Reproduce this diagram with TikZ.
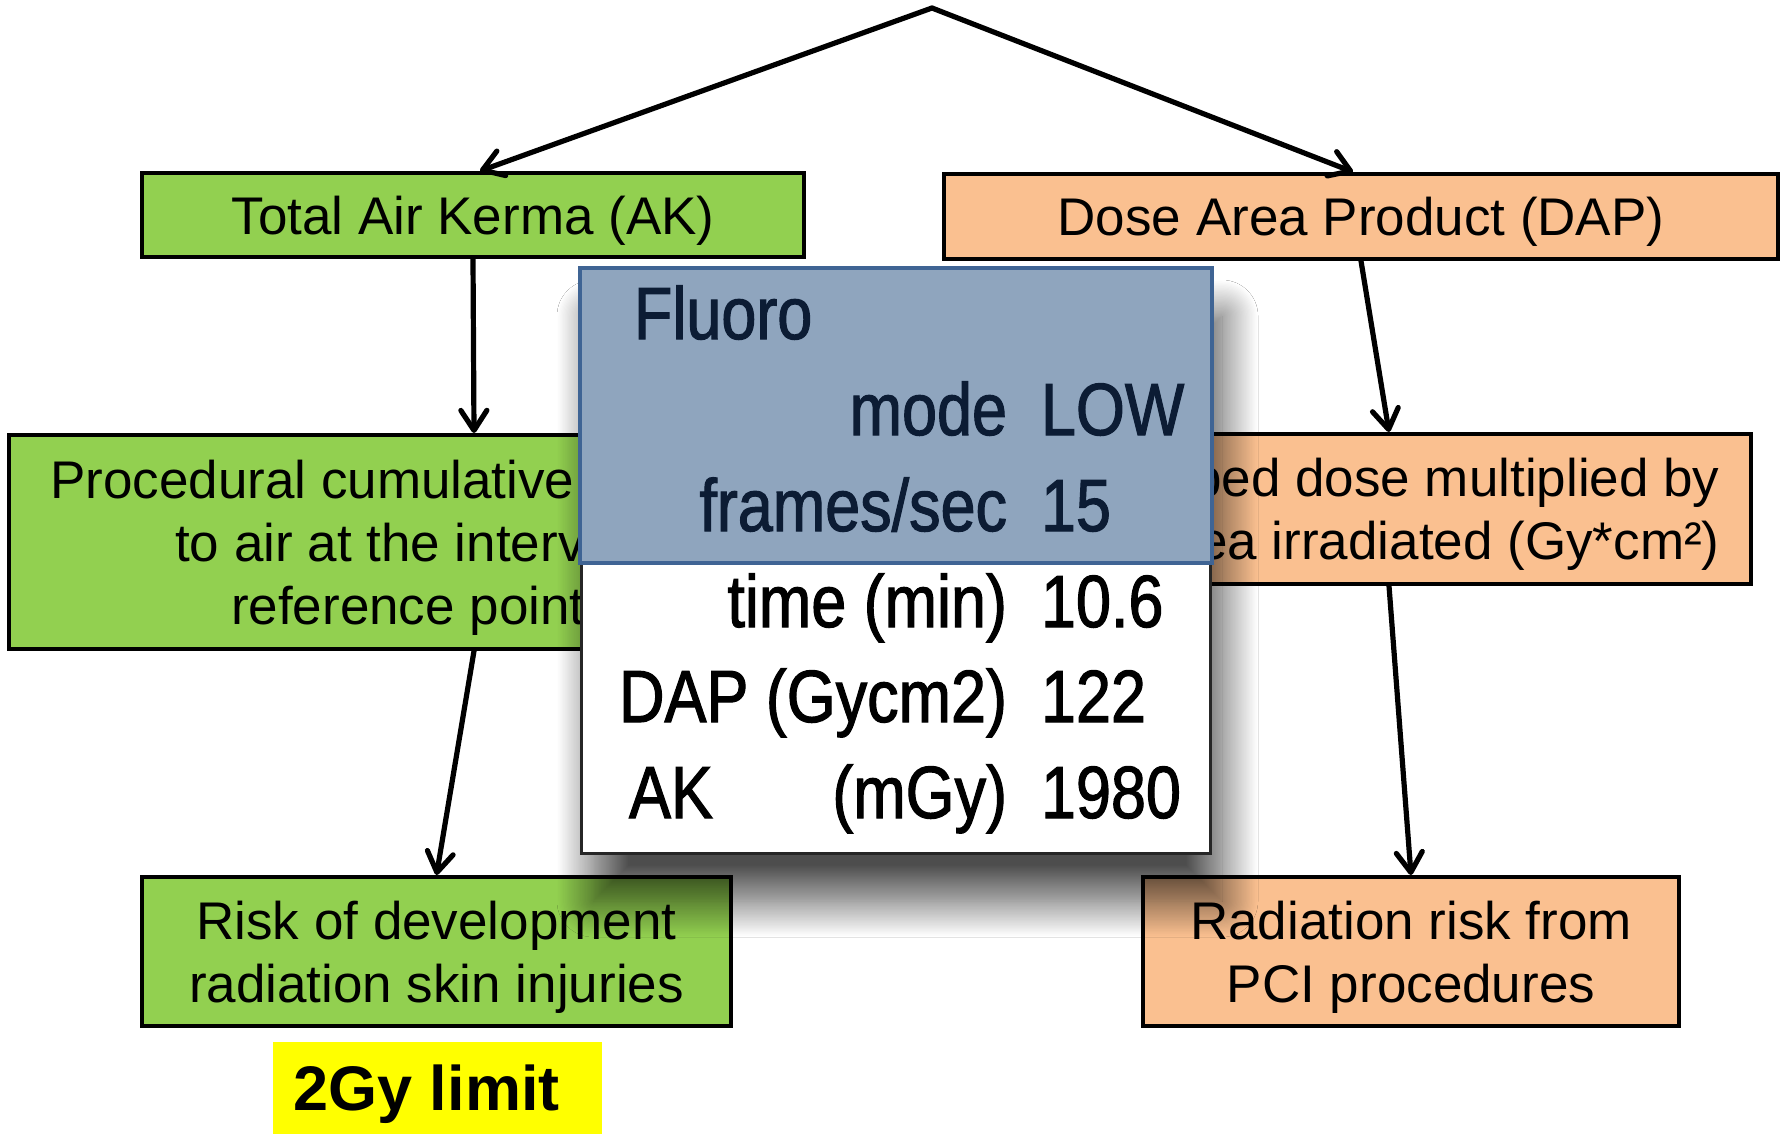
\documentclass[tikz,border=0pt]{standalone}
\usepackage{fontspec}
\setmainfont{Liberation Sans}
\newfontfamily\narrowfont[FakeStretch=0.85,FakeBold=1.5]{Liberation Sans}
\usetikzlibrary{arrows.meta,shadows.blur}
\definecolor{greenFill}{RGB}{146,208,80}
\definecolor{orangeFill}{RGB}{250,192,144}
\definecolor{yellowFill}{RGB}{255,255,0}
\definecolor{headerFill}{RGB}{143,165,190}
\definecolor{headerDraw}{RGB}{63,100,148}
\definecolor{headerText}{RGB}{12,28,52}
\begin{document}
\begin{tikzpicture}[x=0.5pt,y=-0.5pt,
  boxtext/.style={inner sep=0pt,align=center,text depth=0pt,
    font=\fontsize{26.5}{31.5}\selectfont},
  box/.style={boxtext,draw=black,line width=2pt},
  akbox/.style={box,fill=greenFill},
  dapbox/.style={box,fill=orangeFill},
  link/.style={line width=2.6pt,line cap=round,
    -{Straight Barb[length=10pt,width=13pt,line cap=round,line join=round]}},
  readout/.style={inner sep=0pt,outer sep=0pt,
    font=\narrowfont\fontsize{37}{37}\selectfont}]
\path[use as bounding box,fill=white] (0,0) rectangle (1786,1134);

\coordinate (apex) at (932,8);

\node[akbox,minimum width=331pt,minimum height=42pt] (ak) at (473,215) {Total Air Kerma (AK)};
\node[dapbox,minimum width=417pt,minimum height=42.5pt] (dap) at (1361,216.5) {Dose Area Product (DAP)};
\node[akbox,minimum width=465pt,minimum height=107pt] (proc) at (474,542) {};
\node[boxtext,anchor=east,align=right] (procText) at (585,542)
  {Procedural cumulative\hspace*{5pt}\\to air at the interv\\reference point};
\node[dapbox,minimum width=362pt,minimum height=75pt] (absorbed) at (1389,509) {};
\node[boxtext,anchor=east,align=right] (absorbedText) at (1720,509)
  {bed dose multiplied by\\ea irradiated (Gy*cm²)};
\node[akbox,minimum width=294.5pt,minimum height=74.5pt] (skin) at (436.5,951.5)
  {Risk of development\\radiation skin injuries};
\node[dapbox,minimum width=268pt,minimum height=74.5pt] (pci) at (1411,951.5)
  {Radiation risk from\\PCI procedures};
\node[fill=yellowFill,inner sep=0pt,text depth=0pt,minimum width=164.5pt,minimum height=46pt,
  font=\bfseries\fontsize{31.5}{31.5}\selectfont] (limit) at (437.5,1088) {2Gy limit\hspace*{11pt}};

\draw[link] (apex) -- ([xshift=3.5pt]ak.north);
\draw[link] (apex) -- ([xshift=-4pt]dap.north);
\draw[link] (ak.south) -- (proc.north);
\draw[link] (proc.south) -- (skin.north);
\draw[link] (dap.south) -- (absorbed.north);
\draw[link] (absorbed.south) -- (pci.north);

\node[draw=black!85,line width=1.5pt,fill=white,inner sep=0pt,
  minimum width=314.5pt,minimum height=292.5pt,
  blur shadow={shadow xshift=6pt,shadow yshift=-24pt,shadow blur radius=18pt,
    shadow blur steps=30,shadow opacity=70}]
  (panel) at (895.5,560.5) {};
\node[draw=headerDraw,line width=1.8pt,fill=headerFill,inner sep=0pt,
  minimum width=316pt,minimum height=147.5pt] (header) at (896,415.5) {};

\node[readout,text=headerText,anchor=base west] (fluoro) at (634,339) {Fluoro};
\node[readout,text=headerText,anchor=base east] (modeLabel) at (1007,435) {mode};
\node[readout,text=headerText,anchor=base west] (modeValue) at (1041,435) {LOW};
\node[readout,text=headerText,anchor=base east] (rateLabel) at (1007,531) {frames/sec};
\node[readout,text=headerText,anchor=base west] (rateValue) at (1041,531) {15};
\node[readout,anchor=base east] (timeLabel) at (1007,627) {time (min)};
\node[readout,anchor=base west] (timeValue) at (1041,627) {10.6};
\node[readout,anchor=base east] (dapLabel) at (1007,722) {DAP (Gycm2)};
\node[readout,anchor=base west] (dapValue) at (1041,722) {122};
\node[readout,anchor=base west] (akLabel) at (629,818) {AK};
\node[readout,anchor=base east] (akUnit) at (1007,818) {(mGy)};
\node[readout,anchor=base west] (akValue) at (1041,818) {1980};
\end{tikzpicture}
\end{document}
